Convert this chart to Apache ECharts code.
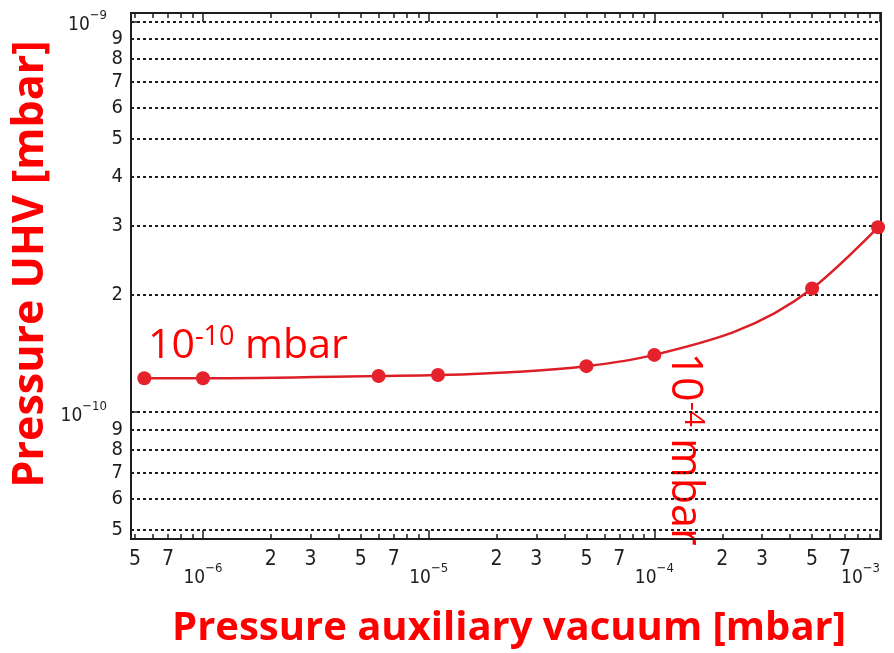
<!DOCTYPE html>
<html>
<head>
<meta charset="utf-8">
<script src="https://cdn.jsdelivr.net/npm/echarts@6/dist/echarts.min.js"></script>
<style>
  html, body { margin: 0; padding: 0; background: #ffffff; }
  #chart { width: 894px; height: 653px; }
</style>
</head>
<body>
<div id="chart"></div>
<script>
// Auxiliary (fore-line) vacuum pressure, mbar
const auxPressure = [5.5e-7, 1e-6, 6e-6, 1.1e-5, 5e-5, 1e-4, 5e-4, 9.8e-4];
// Resulting UHV pressure, mbar
const uhvPressure = [1.22e-10, 1.22e-10, 1.236e-10, 1.243e-10, 1.31e-10, 1.40e-10, 2.07e-10, 2.97e-10];

// Axis ranges (mbar)
const xRange = [4.8e-7, 1.01e-3];
const yRange = [4.73e-11, 1.05e-9];

// Tick layout: decades (exponents) and mantissas inside each decade
const xDecades = [-7, -6, -5, -4, -3];
const yDecades = [-11, -10, -9];
const minorMantissas = [2, 3, 4, 5, 6, 7, 8, 9];
const xLabelMantissas = [2, 3, 5, 7];
const yLabelMantissas = [2, 3, 4, 5, 6, 7, 8, 9];

const lg = Math.log10;
const eps = 1e-9;

function inRange(v, r) { return v >= lg(r[0]) - eps && v <= lg(r[1]) + eps; }
function mantissaPositions(decades, mantissas, r) {
  const out = [];
  decades.forEach(function (d) {
    mantissas.forEach(function (m) { out.push(d + lg(m)); });
  });
  return out.filter(function (v) { return inRange(v, r); });
}
function decadePositions(decades, r) {
  return decades.filter(function (d) { return inRange(d, r); });
}
function mantissaOf(v) {
  const d = Math.floor(v + eps);
  return String(Math.round(Math.pow(10, v - d)));
}
function decadeLabel(v) {
  return '{b|10}{s|\u2212' + Math.abs(Math.round(v)) + '}';
}

const xMinorTicks = mantissaPositions(xDecades, minorMantissas, xRange);
const xMinorLabels = mantissaPositions(xDecades, xLabelMantissas, xRange);
const xMajor = decadePositions(xDecades, xRange);
const yMinorTicks = mantissaPositions(yDecades, minorMantissas, yRange);
const yMinorLabels = mantissaPositions(yDecades, yLabelMantissas, yRange);
const yMajor = decadePositions(yDecades, yRange);
const yGrid = yMinorTicks.concat(yMajor);

const ink = '#1e1e1e';
const tickFont = "'Liberation Sans Narrow', 'DejaVu Sans Condensed', 'Liberation Sans', sans-serif";
const titleFont = "'Open Sans', 'Noto Sans', sans-serif";
const red = '#ff0000';
const curveRed = '#dc1f26';
const dotRed = '#e5222b';

const decadeRich = {
  b: { fontFamily: tickFont, fontSize: 19, color: ink, padding: [8, 0, 0, 0] },
  s: { fontFamily: tickFont, fontSize: 13, color: ink, padding: [0, 0, 11, 0] }
};

function decorX(position, opts) {
  return Object.assign({
    type: 'value',
    position: position,
    min: lg(xRange[0]),
    max: lg(xRange[1]),
    axisLine: { show: false },
    axisTick: { show: false },
    axisLabel: { show: false },
    splitLine: { show: false }
  }, opts);
}
function decorY(position, opts) {
  return Object.assign({
    type: 'value',
    position: position,
    min: lg(yRange[0]),
    max: lg(yRange[1]),
    axisLine: { show: false },
    axisTick: { show: false },
    axisLabel: { show: false },
    splitLine: { show: false }
  }, opts);
}

// Monotone cubic (Fritsch–Carlson style) path through pixel points
function monotonePath(pts) {
  const n = pts.length;
  const h = [], s = [], t = new Array(n);
  for (let i = 0; i < n - 1; i++) {
    h.push(pts[i + 1][0] - pts[i][0]);
    s.push((pts[i + 1][1] - pts[i][1]) / h[i]);
  }
  for (let i = 1; i < n - 1; i++) {
    const p = (s[i - 1] * h[i] + s[i] * h[i - 1]) / (h[i - 1] + h[i]);
    const sg = (Math.sign(s[i - 1]) + Math.sign(s[i]));
    t[i] = sg * Math.min(Math.abs(s[i - 1]), Math.abs(s[i]), 0.5 * Math.abs(p)) || 0;
  }
  t[0] = (3 * s[0] - t[1]) / 2;
  t[n - 1] = (3 * s[n - 2] - t[n - 2]) / 2;
  let d = 'M' + pts[0][0] + ' ' + pts[0][1];
  for (let i = 0; i < n - 1; i++) {
    const dx = h[i] / 3;
    d += ' C' + (pts[i][0] + dx) + ' ' + (pts[i][1] + t[i] * dx) + ' ' +
      (pts[i + 1][0] - dx) + ' ' + (pts[i + 1][1] - t[i + 1] * dx) + ' ' +
      pts[i + 1][0] + ' ' + pts[i + 1][1];
  }
  return d;
}

const seriesData = auxPressure.map(function (x, i) { return [x, uhvPressure[i]]; });

const chart = echarts.init(document.getElementById('chart'), null, { renderer: 'canvas' });

function annotationRich(size) {
  return {
    a: { fontFamily: titleFont, fontSize: size, fill: red, color: red },
    s: { fontFamily: titleFont, fontSize: Math.round(size * 0.66), fill: red, color: red, padding: [0, 0, 18, 0] }
  };
}

const option = {
  animation: false,
  backgroundColor: '#ffffff',
  grid: { left: 131, right: 13, top: 13, bottom: 114, containLabel: false, outerBoundsMode: 'none' },
  xAxis: [
    // data axis (logarithmic)
    { type: 'log', logBase: 10, min: xRange[0], max: xRange[1], show: false },
    // bottom line, minor ticks and mantissa labels
    decorX('bottom', {
      axisLine: { show: true, onZero: false, lineStyle: { color: ink, width: 2 } },
      axisTick: { show: true, inside: true, length: 5, customValues: xMinorTicks, lineStyle: { color: ink, width: 1.5 } },
      axisLabel: { show: true, customValues: xMinorLabels, formatter: mantissaOf, margin: 10,
        fontFamily: tickFont, fontSize: 21, color: ink, hideOverlap: false }
    }),
    // bottom decade ticks and labels
    decorX('bottom', {
      axisTick: { show: true, inside: true, length: 9, customValues: xMajor, lineStyle: { color: ink, width: 1.5 } },
      axisLabel: { show: true, customValues: xMajor, formatter: decadeLabel, margin: 22, rich: decadeRich,
        alignMaxLabel: 'right', hideOverlap: false }
    }),
    // top frame with mirrored ticks
    decorX('top', {
      axisLine: { show: true, onZero: false, lineStyle: { color: ink, width: 2 } },
      axisTick: { show: true, inside: true, length: 5, customValues: xMinorTicks, lineStyle: { color: ink, width: 1.5 } }
    }),
    decorX('top', {
      axisTick: { show: true, inside: true, length: 9, customValues: xMajor, lineStyle: { color: ink, width: 1.5 } }
    })
  ],
  yAxis: [
    // data axis (logarithmic)
    { type: 'log', logBase: 10, min: yRange[0], max: yRange[1], show: false },
    // dotted horizontal grid at every mantissa
    decorY('left', {
      axisTick: { show: false, customValues: yGrid },
      splitLine: { show: true, lineStyle: { color: ink, width: 2, type: [3, 3] } }
    }),
    // left line, mantissa labels
    decorY('left', {
      axisLine: { show: true, onZero: false, lineStyle: { color: ink, width: 2 } },
      axisTick: { show: false },
      axisLabel: { show: true, customValues: yMinorLabels, formatter: mantissaOf, margin: 8,
        fontFamily: tickFont, fontSize: 20, lineHeight: 16, color: ink,
        hideOverlap: false, showMinLabel: true, showMaxLabel: true }
    }),
    // left decade ticks and labels
    decorY('left', {
      axisTick: { show: true, inside: true, length: 9, customValues: yMajor, lineStyle: { color: ink, width: 1.5 } },
      axisLabel: { show: true, customValues: yMajor, formatter: decadeLabel, margin: 24, rich: decadeRich,
        hideOverlap: false }
    }),
    // right frame
    decorY('right', {
      axisLine: { show: true, onZero: false, lineStyle: { color: ink, width: 2 } }
    })
  ],
  series: [
    {
      // smooth curve through the measured points
      type: 'custom',
      xAxisIndex: 0,
      yAxisIndex: 0,
      data: seriesData,
      encode: { x: 0, y: 1 },
      renderItem: function (params, api) {
        if (params.dataIndex !== 0) return null;
        const pts = seriesData.map(function (p) { return api.coord(p); });
        return {
          type: 'path',
          shape: { pathData: monotonePath(pts) },
          style: { fill: null, stroke: curveRed, lineWidth: 2.5 },
          z2: 5
        };
      },
      z: 9
    },
    {
      type: 'scatter',
      xAxisIndex: 0,
      yAxisIndex: 0,
      data: seriesData,
      symbol: 'circle',
      symbolSize: 14,
      itemStyle: { color: dotRed, opacity: 1 },
      z: 10
    }
  ],
  graphic: [
    {
      type: 'text', x: 509, y: 629,
      style: {
        text: 'Pressure auxiliary vacuum [mbar]',
        font: "bold 40px " + titleFont,
        fill: red, align: 'center', verticalAlign: 'middle'
      }
    },
    {
      type: 'text', x: 31, y: 264, rotation: Math.PI / 2,
      style: {
        text: 'Pressure UHV [mbar]',
        font: "bold 43px " + titleFont,
        fill: red, align: 'center', verticalAlign: 'middle'
      }
    },
    {
      type: 'text', x: 148, y: 346,
      style: {
        text: '{a|10}{s|-10}{a| mbar}',
        rich: annotationRich(41),
        fill: red,
        align: 'left', verticalAlign: 'middle'
      }
    },
    {
      type: 'text', x: 684, y: 449, rotation: -Math.PI / 2,
      style: {
        text: '{a|10}{s|-4}{a| mbar}',
        rich: annotationRich(43),
        fill: red,
        align: 'center', verticalAlign: 'middle'
      }
    }
  ]
};

chart.setOption(option);
</script>
</body>
</html>
